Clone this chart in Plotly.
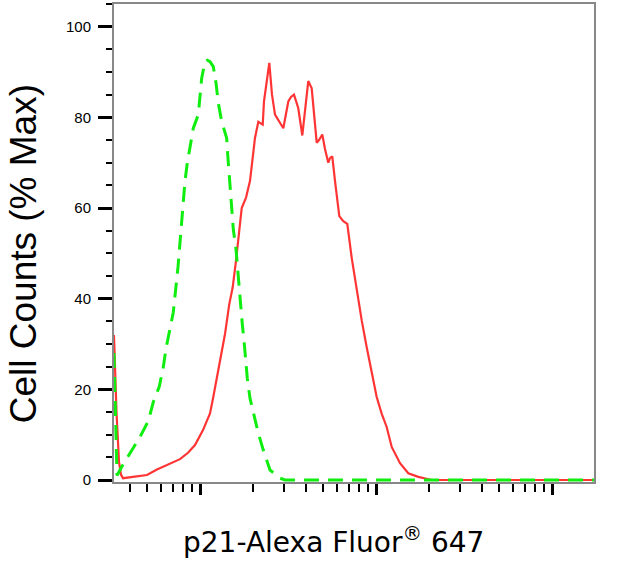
import plotly.graph_objects as go

# Red (stained) histogram: fluorescence intensity vs % max
red_x = [3.245, 3.354, 3.466, 3.557, 3.651, 4.272, 4.999, 5.697, 6.494, 7.698,
         8.546, 9.367, 10.40, 11.40, 11.90, 12.99, 13.87, 14.67, 15.34, 16.02,
         16.72, 17.26, 18.26, 19.24, 20.54, 21.45, 22.72, 23.10, 24.76, 25.65,
         26.68, 28.11, 29.74, 31.75, 32.89, 34.20, 36.18, 38.13, 39.50, 41.23,
         43.12, 44.44, 46.04, 47.45, 49.53, 51.31, 53.58, 54.77, 56.45, 58.48,
         61.87, 65.19, 68.69, 72.77, 77.67, 82.95, 88.56, 94.54, 100.9, 107.8,
         115.0, 122.8, 136.9, 152.6, 173.9, 207.3, 1732]
red_y = [32, 15, 4, 1.2, 0.4, 0.8, 1.1, 2.3, 3.3, 4.6,
         6, 7.7, 11, 14.7, 18.3, 26.4, 32.2, 38.8, 42.5, 48.4,
         55.7, 60, 62.3, 66, 75.5, 79, 78.4, 83.5, 92, 85,
         80.6, 79, 77.6, 83.5, 84.5, 85, 82, 76, 82, 88,
         86.4, 80, 74.4, 75, 76.2, 73, 70, 71, 71.4, 66,
         58.2, 57.1, 56.5, 49, 41.8, 35.2, 29.3, 23.4, 18.3, 14.6,
         11.7, 7.3, 3.7, 1.5, 0.7, 0, 0]

# Green (control) histogram
green_x = [3.245, 3.311, 3.376, 3.591, 4.003, 4.561, 5.085, 5.428, 5.872, 6.187,
           6.410, 6.753, 7.052, 7.499, 7.799, 8.220, 8.471, 8.887, 9.161, 9.779,
           9.908, 10.22, 10.68, 11.00, 11.40, 11.90, 12.33, 12.71, 13.28, 14.18,
           14.37, 14.62, 14.94, 15.14, 15.46, 16.02, 16.29, 16.72, 17.03, 17.39,
           17.78, 18.18, 18.57, 19.24, 20.54, 21.45, 22.89, 24.99, 28.48, 30.41, 1732]
green_y = [28, 10, 1, 2.9, 5.9, 9.5, 13, 17.2, 20.6, 24.9,
           29, 33.4, 37, 47, 56, 66, 70, 74.4, 77.6, 80.6,
           83.5, 88.6, 92.3, 92.6, 92.3, 91.2, 87.6, 83.1, 79.1, 75.4,
           71.8, 67.4, 63.7, 59.3, 55.3, 50.9, 47.3, 42.9, 38.8, 34.4,
           30.8, 26.4, 22.4, 18, 13, 10.3, 6.6, 2.2, 0.4, 0, 0]

y_ticks = [0, 20, 40, 60, 80, 100]
x_major = [10, 100, 1000]
x_minor = [4, 5, 6, 7, 8, 9, 20, 30, 40, 50, 60, 70, 80, 90,
           200, 300, 400, 500, 600, 700, 800, 900]

FONT = "Arial, Liberation Sans, sans-serif"

fig = go.Figure()
fig.add_trace(go.Scatter(x=red_x, y=red_y, mode="lines",
                         line=dict(color="#ff3535", width=2.2), showlegend=False))
fig.add_trace(go.Scatter(x=green_x, y=green_y, mode="lines",
                         line=dict(color="#10ee10", width=3, dash="15px,9px"),
                         showlegend=False))

fig.update_layout(
    width=635, height=570,
    margin=dict(l=114, r=41, t=2, b=88),
    paper_bgcolor="white", plot_bgcolor="white",
    font=dict(family=FONT, color="black"),
    xaxis=dict(type="log", range=[0.5114, 3.2386],
               showline=True, linecolor="#888888", linewidth=2, mirror=True,
               showgrid=False, zeroline=False,
               tickmode="array", tickvals=x_major, ticks="outside",
               ticklen=11, tickwidth=3, tickcolor="black", showticklabels=False,
               minor=dict(tickmode="array", tickvals=x_minor, ticks="outside",
                          ticklen=8, tickwidth=2, tickcolor="black", showgrid=False)),
    yaxis=dict(range=[-0.44, 105],
               showline=True, linecolor="#888888", linewidth=2, mirror=True,
               showgrid=False, zeroline=False,
               tickmode="array", tickvals=y_ticks, ticks="outside",
               ticklen=14, tickwidth=3, tickcolor="black",
               tickfont=dict(family=FONT, size=15, color="black"),
               ticklabelstandoff=4,
               minor=dict(dtick=5, tick0=0, ticks="outside", ticklen=6,
                          tickwidth=2, tickcolor="black", showgrid=False)),
    annotations=[
        dict(text="p21-Alexa Fluor<sup>®</sup> 647", xref="paper", yref="paper",
             x=0.458, y=-0.122, xanchor="center", yanchor="middle",
             showarrow=False,
             font=dict(family="DejaVu Sans, sans-serif", size=28, color="black")),
        dict(text="Cell Counts (% Max)", xref="paper", yref="paper",
             x=-0.187, y=0.477, xanchor="center", yanchor="middle", textangle=-90,
             showarrow=False, font=dict(family=FONT, size=37, color="black")),
    ],
)

fig.write_html("out.html")
